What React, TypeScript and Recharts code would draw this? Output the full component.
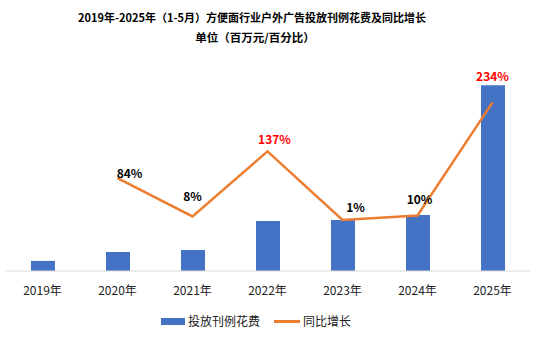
import { ComposedChart, Bar, Line, XAxis, YAxis, LabelList } from 'recharts'

const years = ['2019年', '2020年', '2021年', '2022年', '2023年', '2024年', '2025年']
// 投放刊例花费 (百万元)
const spend = [5.0, 9.4, 10.4, 24.8, 25.2, 27.7, 92.0]
// 同比增长 (%)
const growth: (number | null)[] = [null, 84, 8, 137, 1, 10, 234]

const data = years.map((year, i) => ({ year, spend: spend[i], growth: growth[i] }))

// hand-placed label offsets, like the original
const labelOffsets: [number, number][] = [
  [0, 0],
  [12, -6],
  [0, -21],
  [7, -13],
  [13, -13],
  [2, -17],
  [0, -27],
]

const FONT = '"Noto Sans CJK SC", "Noto Sans", sans-serif'

function GrowthLabel(props: any) {
  const { x, y, value, index } = props
  if (value == null) return null
  const [dx, dy] = labelOffsets[index] || [0, -12]
  return (
    <text
      x={x + dx}
      y={y + dy}
      textAnchor="middle"
      dominantBaseline="central"
      fontSize={12}
      fontWeight="bold"
      fontFamily={FONT}
      fill={value > 100 ? '#FF0000' : '#000000'}
    >
      {`${value}%`}
    </text>
  )
}

export default function App() {
  return (
    <div
      style={{
        position: 'absolute',
        left: 0,
        top: 0,
        width: 555,
        height: 341,
        background: '#fff',
        fontFamily: FONT,
      }}
    >
      <div
        style={{
          position: 'absolute',
          left: 0,
          top: 8,
          width: 504,
          textAlign: 'center',
          fontWeight: 'bold',
          color: '#000',
        }}
      >
        <div style={{ fontSize: 11, lineHeight: '18px' }}>
          2019年-2025年（1-5月）方便面行业户外广告投放刊例花费及同比增长
        </div>
        <div style={{ fontSize: 11.5, lineHeight: '18px', marginTop: 2, paddingLeft: 6 }}>
          单位（百万元/百分比）
        </div>
      </div>

      <div style={{ position: 'absolute', left: 0, top: 0 }}>
        <ComposedChart
          width={555}
          height={341}
          data={data}
          margin={{ top: 69, right: 25, bottom: 40, left: 5 }}
        >
          <XAxis
            dataKey="year"
            tickLine={false}
            axisLine={{ stroke: '#D9D9D9' }}
            height={30}
            tickMargin={9}
            tick={{ fontSize: 12, fill: '#222', fontFamily: FONT }}
            interval={0}
          />
          <YAxis yAxisId="left" hide domain={[0, 100]} />
          <YAxis yAxisId="right" hide orientation="right" domain={[-100, 300]} />
          <Bar
            yAxisId="left"
            dataKey="spend"
            name="投放刊例花费"
            fill="#4472C4"
            barSize={24}
            isAnimationActive={false}
          />
          <Line
            yAxisId="right"
            dataKey="growth"
            name="同比增长"
            stroke="#ED7D31"
            strokeWidth={2.5}
            dot={false}
            activeDot={false}
            connectNulls={false}
            isAnimationActive={false}
          >
            <LabelList dataKey="growth" content={GrowthLabel} />
          </Line>
        </ComposedChart>
      </div>

      <div
        style={{
          position: 'absolute',
          left: 0,
          top: 312,
          width: 512,
          display: 'flex',
          justifyContent: 'center',
          alignItems: 'center',
          fontSize: 12,
          color: '#222',
          lineHeight: '18px',
        }}
      >
        <span style={{ display: 'inline-block', width: 24, height: 7, background: '#4472C4', marginRight: 3 }} />
        <span style={{ marginRight: 14 }}>投放刊例花费</span>
        <span style={{ display: 'inline-block', width: 26, height: 3, background: '#ED7D31', marginRight: 3 }} />
        <span>同比增长</span>
      </div>
    </div>
  )
}
